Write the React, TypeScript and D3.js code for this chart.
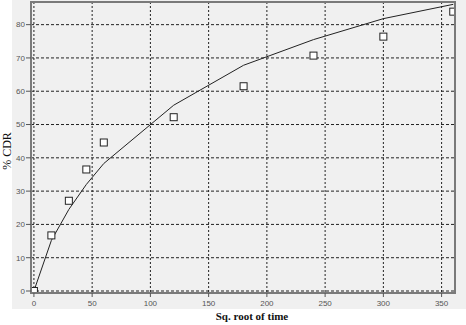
import React from "react";
import * as d3 from "d3";

const timeX = [0, 15, 30, 45, 60, 120, 180, 240, 300, 360];
const observed = [0, 16.7, 27.1, 36.5, 44.6, 52.2, 61.5, 70.7, 76.4, 83.9];
const fitted = [0, 15.2, 24.5, 32, 38.3, 55.8, 67.8, 75.5, 81.8, 86.1];
const xTicks = [0, 50, 100, 150, 200, 250, 300, 350];
const yTicks = [0, 10, 20, 30, 40, 50, 60, 70, 80];

export default function App() {
  const W = 466, H = 325;
  const x = d3.scaleLinear().domain([-2.5, 361.5]).range([31, 455]);
  const y = d3.scaleLinear().domain([-0.6, 86.8]).range([293, 2]);
  const line = d3
    .line<number>()
    .x((_, i) => x(timeX[i]))
    .y((d) => y(d));
  const left = 31, right = 455, top = 2, bottom = 293;
  return (
    <svg
      width={W}
      height={H}
      style={{ position: "absolute", left: 0, top: 0, display: "block" }}
    >
      <rect x={0} y={0} width={W} height={H} fill="#ffffff" />
      <rect x={12} y={0} width={W - 12} height={309} fill="#f0f0f0" />
      <defs>
        <clipPath id="plotClip">
          <rect x={left} y={top} width={right - left} height={bottom - top} />
        </clipPath>
      </defs>
      {xTicks.map((t) => (
        <line
          key={"gx" + t}
          x1={x(t)}
          x2={x(t)}
          y1={top}
          y2={bottom}
          stroke="#222"
          strokeWidth={1}
          strokeDasharray="2,2"
        />
      ))}
      {yTicks.map((t) => (
        <line
          key={"gy" + t}
          x1={left}
          x2={right}
          y1={y(t)}
          y2={y(t)}
          stroke="#222"
          strokeWidth={1}
          strokeDasharray="3,2"
        />
      ))}
      <g clipPath="url(#plotClip)">
        <path d={line(fitted) || ""} fill="none" stroke="#222" strokeWidth={1} />
        {observed.map((v, i) => (
          <rect
            key={"p" + i}
            x={x(timeX[i]) - 3.5}
            y={y(v) - 3.5}
            width={7}
            height={7}
            fill="#ffffff"
            stroke="#222"
            strokeWidth={1}
          />
        ))}
      </g>
      <rect
        x={left}
        y={top}
        width={right - left}
        height={bottom - top}
        fill="none"
        stroke="#7a7a7a"
        strokeWidth={2}
      />
      {yTicks.map((t) => (
        <g key={"ty" + t}>
          <line x1={26} x2={31} y1={y(t)} y2={y(t)} stroke="#555" />
          <text
            x={25}
            y={y(t)}
            dy="0.35em"
            textAnchor="end"
            fontFamily="Liberation Sans, Arial, sans-serif"
            fontSize={8}
            fill="#555"
          >
            {t}
          </text>
        </g>
      ))}
      {xTicks.map((t) => (
        <g key={"tx" + t}>
          <line x1={x(t)} x2={x(t)} y1={293} y2={297} stroke="#555" />
          <text
            x={x(t)}
            y={306}
            textAnchor="middle"
            fontFamily="Liberation Sans, Arial, sans-serif"
            fontSize={8}
            fill="#555"
          >
            {t}
          </text>
        </g>
      ))}
      <text
        x={252}
        y={320}
        textAnchor="middle"
        fontFamily="Liberation Serif, Times New Roman, serif"
        fontWeight="bold"
        fontSize={11}
        fill="#111"
      >
        Sq. root of time
      </text>
      <text
        transform="translate(11,151) rotate(-90)"
        textAnchor="middle"
        fontFamily="Liberation Serif, Times New Roman, serif"
        fontSize={12}
        fill="#111"
      >
        % CDR
      </text>
    </svg>
  );
}
